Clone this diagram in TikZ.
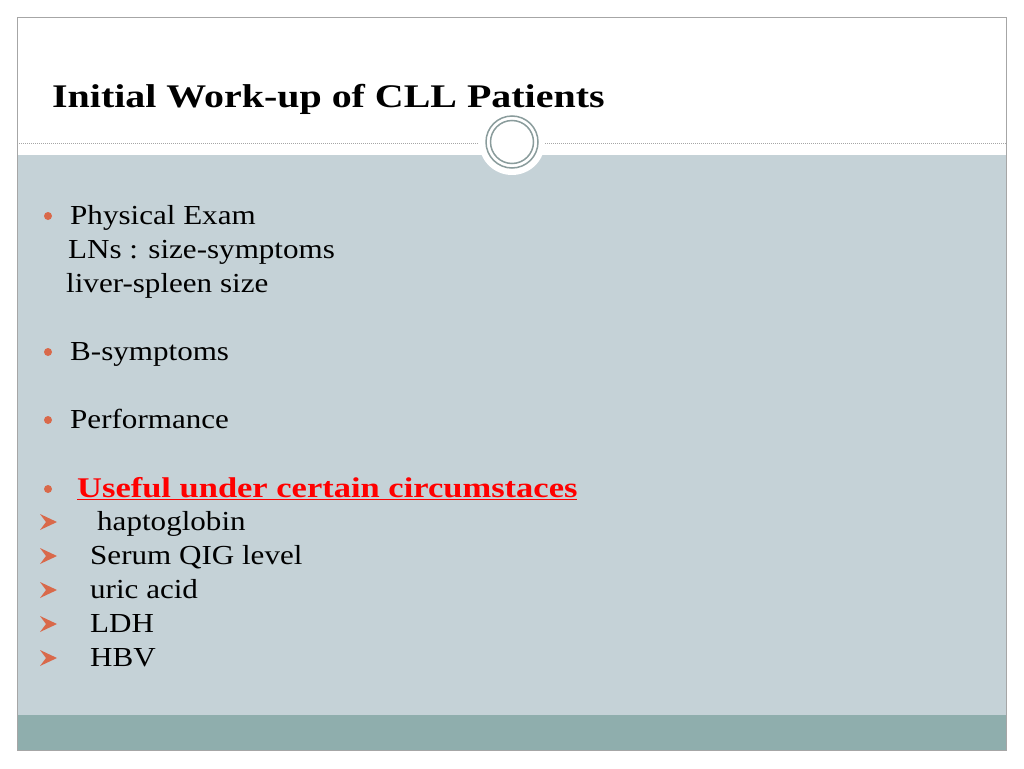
\documentclass[tikz,border=0pt]{standalone}
\usepackage{fontspec}
\setmainfont{Liberation Serif}[FakeStretch=1.13,BoldFeatures={FakeStretch=1.21}]
\begin{document}
\begin{tikzpicture}[x=1pt,y=-1pt,
  txt/.style={anchor=base west,inner sep=0,font=\fontsize{27.5}{30}\selectfont},
  dot/.style={circle,fill=bul,inner sep=0,minimum size=8},
]
\definecolor{bul}{HTML}{D9694A}
\definecolor{body}{HTML}{C5D2D7}
\definecolor{band}{HTML}{8FAEAD}
\definecolor{ring}{HTML}{8A9C9C}
\useasboundingbox (0,0) rectangle (1024,768);
\fill[white] (0,0) rectangle (1024,768);
\fill[body] (17,155) rectangle (1006,715);
\fill[band] (17,715) rectangle (1006,750);
\draw[gray!70] (17,17) rectangle (1006,750);
\draw[gray!70,dash pattern=on 1pt off 1pt] (17,143) -- (1006,143);
\fill[white] (512,142) circle (33);
\draw[ring,line width=1.5] (512,142) circle (26);
\draw[ring,line width=1.5] (512,142) circle (21.5);
\node[anchor=base west,inner sep=0,font=\fontsize{33}{36}\selectfont\bfseries] (title) at (52,107) {Initial Work-up of CLL Patients};
\node[dot] (b1) at (48,216) {};
\node[txt] (t1) at (70,224) {Physical Exam};
\node[txt] (t1a) at (68,258) {LNs : size-symptoms};
\node[txt] (t1b) at (66,292) {liver-spleen size};
\node[dot] (b2) at (48,352) {};
\node[txt] (t2) at (70,360) {B-symptoms};
\node[dot] (b3) at (48,420) {};
\node[txt] (t3) at (70,428) {Performance};
\node[dot] (b4) at (48,489) {};
\node[txt,text=red,font=\fontsize{28.5}{30}\selectfont\bfseries] (t4) at (77,497) {\underline{Useful under certain circumstaces}};
\foreach \y/\x/\t [count=\i] in {530/97/haptoglobin,564/90/Serum QIG level,598/90/uric acid,632/90/LDH,666/90/HBV}{
  \fill[bul] (40,\y-16) -- (57,\y-8) -- (40,\y) -- (46,\y-8) -- cycle;
  \node[txt] (s\i) at (\x,\y) {\t};
}
\end{tikzpicture}
\end{document}
